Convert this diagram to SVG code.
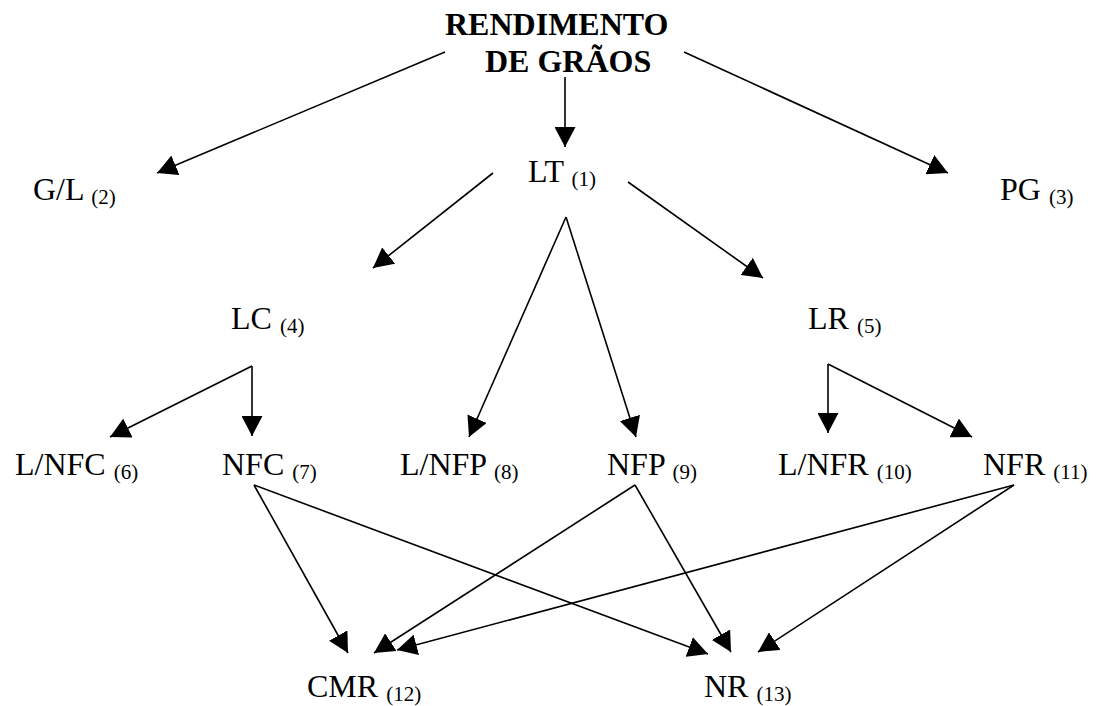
<svg xmlns="http://www.w3.org/2000/svg" width="1100" height="706" viewBox="0 0 1100 706">
<style>
  text { font-family: 'Liberation Serif', 'Times New Roman', serif; font-size: 32px; fill: #000; }
  .title { font-weight: bold; }
  .sub { font-size: 21px; }
  .conn line { stroke: #000; stroke-width: 1.6; fill: none; marker-end: url(#arrow); }
</style>
<defs>
  <marker id="arrow" markerUnits="userSpaceOnUse" markerWidth="20" markerHeight="21" refX="20" refY="10.5" orient="auto" viewBox="0 0 20 21">
    <path d="M0,0 L20,10.5 L0,21 z" fill="#000"/>
  </marker>
</defs>
<rect width="1100" height="706" fill="#fff"/>
<g id="connectors" class="conn">
  <line x1="445" y1="52" x2="157" y2="173"/>
  <line x1="565" y1="77" x2="565" y2="147"/>
  <line x1="684" y1="52" x2="948" y2="173"/>
  <line x1="493" y1="173" x2="373" y2="268"/>
  <line x1="628" y1="182" x2="763" y2="278"/>
  <line x1="566" y1="217" x2="469" y2="437"/>
  <line x1="566" y1="217" x2="636" y2="437"/>
  <line x1="252" y1="366" x2="110" y2="437"/>
  <line x1="252" y1="366" x2="252" y2="436"/>
  <line x1="828" y1="364" x2="828" y2="433"/>
  <line x1="828" y1="364" x2="972" y2="437"/>
  <line x1="254" y1="485" x2="348" y2="653"/>
  <line x1="254" y1="485" x2="708" y2="654"/>
  <line x1="635" y1="485" x2="374" y2="653"/>
  <line x1="635" y1="485" x2="731" y2="652"/>
  <line x1="1014" y1="485" x2="397" y2="650"/>
  <line x1="1014" y1="485" x2="758" y2="652"/>
</g>
<g id="rendimento">
  <text class="title" x="445" y="35">RENDIMENTO</text>
  <text class="title" x="485" y="72">DE GRÃOS</text>
</g>
<g id="gl"><text x="33" y="200">G/L <tspan class="sub" dy="4">(2)</tspan></text></g>
<g id="lt"><text x="528" y="182">LT <tspan class="sub" dy="4">(1)</tspan></text></g>
<g id="pg"><text x="1000" y="200">PG <tspan class="sub" dy="4">(3)</tspan></text></g>
<g id="lc"><text x="231" y="329">LC <tspan class="sub" dy="4">(4)</tspan></text></g>
<g id="lr"><text x="808" y="329">LR <tspan class="sub" dy="4">(5)</tspan></text></g>
<g id="lnfc"><text x="15" y="475">L/NFC <tspan class="sub" dy="4">(6)</tspan></text></g>
<g id="nfc"><text x="222" y="475">NFC <tspan class="sub" dy="4">(7)</tspan></text></g>
<g id="lnfp"><text x="400" y="475">L/NFP <tspan class="sub" dy="4">(8)</tspan></text></g>
<g id="nfp"><text x="607" y="475">NFP <tspan class="sub" dy="4">(9)</tspan></text></g>
<g id="lnfr"><text x="778" y="475">L/NFR <tspan class="sub" dy="4">(10)</tspan></text></g>
<g id="nfr"><text x="983" y="475">NFR <tspan class="sub" dy="4">(11)</tspan></text></g>
<g id="cmr"><text x="307" y="697">CMR <tspan class="sub" dy="4">(12)</tspan></text></g>
<g id="nr"><text x="704" y="697">NR <tspan class="sub" dy="4">(13)</tspan></text></g>
</svg>
